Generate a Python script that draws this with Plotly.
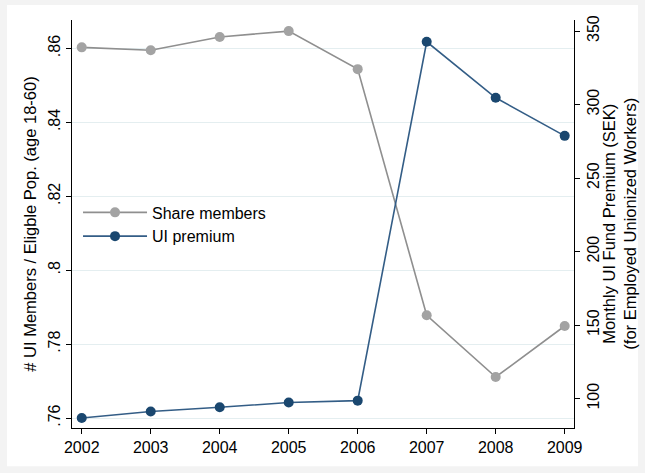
import plotly.graph_objects as go

# Data
years = [2002, 2003, 2004, 2005, 2006, 2007, 2008, 2009]
share_members = [0.8603, 0.8595, 0.8631, 0.8647, 0.8544, 0.7878, 0.7711, 0.7849]
ui_premium = [86.8, 91.2, 94.1, 97.3, 98.6, 342.7, 304.6, 278.7]

left_ticks = [0.76, 0.78, 0.80, 0.82, 0.84, 0.86]
left_labels = [".76", ".78", ".8", ".82", ".84", ".86"]
right_ticks = [100, 150, 200, 250, 300, 350]

FONT = "Liberation Sans, Arial, sans-serif"
GRAY_M = "#a3a3a3"
GRAY_L = "#8f8f8f"
NAVY_M = "#1a476f"
NAVY_L = "#335d86"

fig = go.Figure()
fig.add_trace(go.Scatter(x=years, y=share_members, name="Share members", mode="lines+markers",
                         line=dict(color=GRAY_L, width=1.6),
                         marker=dict(color=GRAY_M, size=10), yaxis="y"))
fig.add_trace(go.Scatter(x=years, y=ui_premium, name="UI premium", mode="lines+markers",
                         line=dict(color=NAVY_L, width=1.6),
                         marker=dict(color=NAVY_M, size=10), yaxis="y2"))

# white panel with light gray border around it
fig.add_shape(type="rect", xref="paper", yref="paper", x0=-0.1295, x1=1.1275, y0=-0.094, y1=1.0368,
              fillcolor="white", line=dict(width=0), layer="below")

# right axis title, placed as an annotation so it sits closer to the tick labels
fig.add_annotation(text="Monthly UI Fund Premium (SEK)<br>(for Employed Unionized Workers)",
                   xref="paper", yref="paper", x=1.089, y=0.5, xanchor="center", yanchor="middle",
                   textangle=-90, showarrow=False, font=dict(size=16.5), align="center")

axis_common = dict(ticks="outside", ticklen=5, tickcolor="black", showline=True, linecolor="black",
                   linewidth=1, zeroline=False, automargin=False, tickfont=dict(size=16))

fig.update_layout(
    width=645, height=473,
    margin=dict(l=72, r=71, t=20, b=45),
    paper_bgcolor="#f3f3f3", plot_bgcolor="white",
    font=dict(family=FONT, size=16, color="black"),
    showlegend=True,
    legend=dict(x=0.012, y=0.57, xanchor="left", yanchor="top", bgcolor="rgba(0,0,0,0)",
                font=dict(size=16), itemwidth=64, tracegroupgap=0),
    xaxis=dict(range=[2001.859, 2009.135], tickvals=years, showgrid=False, **axis_common),
    yaxis=dict(range=[0.7573, 0.8677], tickvals=left_ticks, ticktext=left_labels, tickangle=-90,
               showgrid=True, gridcolor="#e4eef0", gridwidth=1,
               title=dict(text="# UI Members / Eligble Pop. (age 18-60)", font=dict(size=16.5), standoff=4),
               **axis_common),
    yaxis2=dict(range=[80, 357.5], tickvals=right_ticks, tickangle=-90, overlaying="y", side="right",
                showgrid=False, **axis_common),
)

# page body has a default 8px margin; remove it so the figure fills the window
fig.write_html("out.html", config={"displayModeBar": False},
               post_script="document.body.style.margin='0px';")
